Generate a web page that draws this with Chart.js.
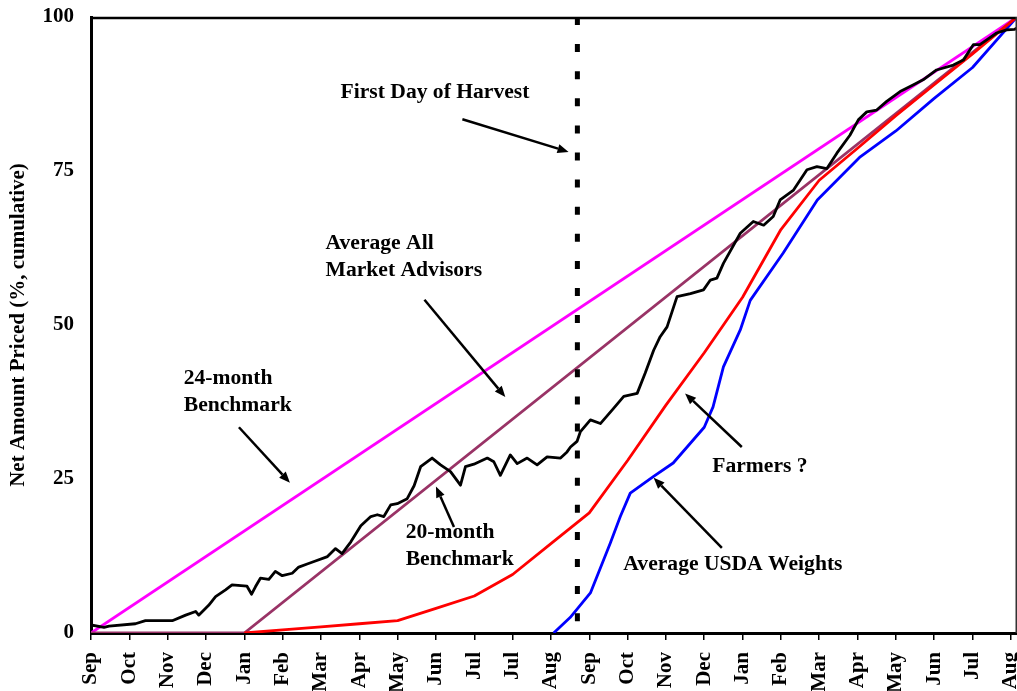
<!DOCTYPE html>
<html>
<head>
<meta charset="utf-8">
<script src="https://cdn.jsdelivr.net/npm/chart.js@4/dist/chart.umd.min.js"></script>
<style>
  html, body { margin: 0; padding: 0; background: #fff; }
  #wrap { width: 1017px; height: 691px; position: relative; overflow: hidden; }
</style>
</head>
<body>
<div id="wrap"><canvas id="c" width="1017" height="691"></canvas></div>
<script>
// ---- tick labels ----
const monthLabels = ["Sep","Oct","Nov","Dec","Jan","Feb","Mar","Apr","May","Jun","Jul","Jul","Aug",
                     "Sep","Oct","Nov","Dec","Jan","Feb","Mar","Apr","May","Jun","Jul","Aug"];
const yTickValues = [0, 25, 50, 75, 100];

// ---- series (x in months since first Sep, y in % cumulative) ----
const bench24X = [0, 24.16];
const bench24Y = [0, 100];

const bench20X = [0, 4, 24.16];
const bench20Y = [0, 0, 100];

const farmersX = [4, 5, 6, 7, 8, 9, 10, 11, 12, 13, 14, 15, 16, 17, 18, 19, 20, 21, 22, 23, 24.16];
const farmersY = [0, 0.5, 1.0, 1.5, 2.0, 4.0, 6.0, 9.5, 14.5, 19.5, 28, 37, 45.5, 54.5, 65.5, 73.5, 78.7, 84, 89, 94, 100];

const usdaX = [12.07, 12.5, 13.03, 13.55, 13.81, 14.07, 14.67, 15.19, 16.0, 16.23, 16.5, 16.94, 17.2, 18.06, 18.95, 20.07, 21.0, 22.0, 23.0, 24.16];
const usdaY = [0, 2.5, 6.5, 14.6, 18.9, 22.7, 25.4, 27.6, 33.4, 36.7, 43.2, 49.2, 54, 61.7, 70.3, 77.3, 81.5, 86.8, 91.8, 100];

const advisorsX = [0, 0.34, 0.47, 1.16, 1.42, 2.12, 2.47, 2.73, 2.81, 3.07, 3.25, 3.51, 3.68, 4.07, 4.19, 4.29, 4.42, 4.64, 4.81, 4.99,
  5.25, 5.42, 5.64, 5.82, 6.17, 6.38, 6.55, 6.78, 7.04, 7.3, 7.47, 7.64, 7.82, 7.99, 8.25, 8.43, 8.6, 8.9, 9.12, 9.38, 9.64, 9.77,
  9.99, 10.34, 10.51, 10.68, 10.94, 11.12, 11.38, 11.64, 11.9, 12.25, 12.42, 12.51, 12.68, 12.77, 13.03, 13.29, 13.64, 13.9, 14.25,
  14.46, 14.68, 14.85, 15.03, 15.29, 15.64, 15.98, 16.16, 16.33, 16.5, 16.94, 17.28, 17.55, 17.8, 17.98, 18.33, 18.68, 18.94, 19.2,
  19.46, 19.8, 20.02, 20.24, 20.5, 20.76, 21.11, 21.46, 21.71, 22.06, 22.5, 22.76, 23.02, 23.19, 23.37, 23.63, 23.89, 24.1, 24.16];
const advisorsY = [1.3, 0.9, 1.1, 1.5, 2.0, 2.0, 2.9, 3.5, 2.9, 4.5, 5.9, 7.0, 7.8, 7.6, 6.3, 7.5, 8.9, 8.7, 10.0, 9.3,
  9.7, 10.7, 11.2, 11.6, 12.4, 13.7, 12.9, 14.8, 17.4, 18.9, 19.2, 18.9, 20.8, 21.0, 21.8, 23.9, 27.0, 28.4, 27.3, 26.2, 24.0, 27.0,
  27.4, 28.4, 27.8, 25.6, 28.9, 27.5, 28.4, 27.3, 28.6, 28.4, 29.4, 30.2, 31.1, 32.7, 34.6, 34.0, 36.5, 38.4, 38.9,
  42.2, 45.9, 48.1, 49.7, 54.6, 55.1, 55.7, 57.3, 57.6, 60.0, 64.9, 66.8, 66.2, 67.6, 70.3, 71.9, 75.2, 75.7, 75.4,
  77.9, 80.8, 83.3, 84.6, 84.9, 86.3, 87.9, 89.0, 89.8, 91.4, 92.2, 93.0, 95.5, 95.5, 96.3, 97.4, 97.9, 98.0, 98.2];

const harvestX = [12.69, 12.69];
const harvestY = [100, 0];

// ---- annotations (in data coordinates) ----
const noteTexts = [
  { text: "First Day of Harvest", x: 6.51, y: 87.7 },
  { text: "Average All", x: 6.12, y: 63.3 },
  { text: "Market Advisors", x: 6.12, y: 58.9 },
  { text: "24-month", x: 2.42, y: 41.4 },
  { text: "Benchmark", x: 2.42, y: 37.0 },
  { text: "20-month", x: 8.21, y: 16.4 },
  { text: "Benchmark", x: 8.21, y: 11.9 },
  { text: "Farmers ?", x: 16.21, y: 27.1 },
  { text: "Average USDA Weights", x: 13.89, y: 11.2 }
];
const noteArrows = [
  { from: [9.69, 83.4], to: [12.46, 78.1] },
  { from: [8.70, 54.1], to: [10.81, 38.3] },
  { from: [3.86, 33.4], to: [5.19, 24.4] },
  { from: [9.47, 17.2], to: [9.00, 23.8] },
  { from: [16.98, 30.2], to: [15.50, 38.9] },
  { from: [16.46, 13.8], to: [14.68, 25.2] }
];

const zip = (xs, ys) => xs.map((x, i) => ({ x: x, y: ys[i] }));
const FONT = "'Liberation Serif', 'Times New Roman', serif";

const framePlugin = {
  id: 'frame',
  afterDatasetsDraw(chart) {
    const { ctx, chartArea: a } = chart;
    ctx.save();
    ctx.strokeStyle = '#000';
    ctx.lineWidth = 2.5;
    ctx.beginPath(); ctx.moveTo(a.left, a.top + 1); ctx.lineTo(a.right, a.top + 1); ctx.stroke();
    ctx.lineWidth = 1.5;
    ctx.strokeStyle = '#333';
    ctx.beginPath(); ctx.moveTo(a.right - 0.75, a.top); ctx.lineTo(a.right - 0.75, a.bottom); ctx.stroke();
    ctx.restore();
  }
};

const notePlugin = {
  id: 'notes',
  afterDraw(chart) {
    const { ctx } = chart;
    const xs = chart.scales.x, ys = chart.scales.y;
    ctx.save();
    ctx.fillStyle = '#000';
    ctx.strokeStyle = '#000';
    ctx.font = "bold 21.6px " + FONT;
    ctx.textBaseline = 'middle';
    ctx.textAlign = 'left';
    noteTexts.forEach(n => {
      ctx.fillText(n.text, xs.getPixelForValue(n.x), ys.getPixelForValue(n.y));
    });
    noteArrows.forEach(a => {
      const x0 = xs.getPixelForValue(a.from[0]), y0 = ys.getPixelForValue(a.from[1]);
      const x1 = xs.getPixelForValue(a.to[0]), y1 = ys.getPixelForValue(a.to[1]);
      const ang = Math.atan2(y1 - y0, x1 - x0);
      const L = 11, W = 4.5;
      const bx = x1 - L * Math.cos(ang), by = y1 - L * Math.sin(ang);
      ctx.lineWidth = 2.5;
      ctx.beginPath(); ctx.moveTo(x0, y0); ctx.lineTo(bx, by); ctx.stroke();
      ctx.beginPath();
      ctx.moveTo(x1, y1);
      ctx.lineTo(bx + W * Math.sin(ang), by - W * Math.cos(ang));
      ctx.lineTo(bx - W * Math.sin(ang), by + W * Math.cos(ang));
      ctx.closePath(); ctx.fill();
    });
    ctx.restore();
  }
};

new Chart(document.getElementById('c'), {
  type: 'line',
  data: {
    datasets: [
      { label: 'Average All Market Advisors', data: zip(advisorsX, advisorsY), borderColor: '#000000', borderWidth: 2.8, order: 0 },
      { label: 'First Day of Harvest', data: zip(harvestX, harvestY), borderColor: '#000000', borderWidth: 5, borderDash: [8, 19.1], order: 1 },
      { label: 'Farmers ?', data: zip(farmersX, farmersY), borderColor: '#FF0000', borderWidth: 2.8, order: 2 },
      { label: 'Average USDA Weights', data: zip(usdaX, usdaY), borderColor: '#0000FF', borderWidth: 2.8, order: 3 },
      { label: '20-month Benchmark', data: zip(bench20X, bench20Y), borderColor: '#993366', borderWidth: 2.8, order: 4 },
      { label: '24-month Benchmark', data: zip(bench24X, bench24Y), borderColor: '#FF00FF', borderWidth: 2.8, order: 5 }
    ]
  },
  options: {
    responsive: false,
    animation: false,
    devicePixelRatio: 1,
    layout: { padding: { top: 17, right: 0, left: 0, bottom: 0 } },
    plugins: { legend: { display: false }, tooltip: { enabled: false } },
    elements: { point: { radius: 0 }, line: { tension: 0, borderCapStyle: 'butt', borderJoinStyle: 'round' } },
    scales: {
      x: {
        type: 'linear', min: 0, max: 24.16,
        afterBuildTicks: s => { s.ticks = monthLabels.map((_, i) => ({ value: i })); },
        afterFit: s => { s.height = 58; s.paddingLeft = 0; s.paddingRight = 0; },
        ticks: {
          autoSkip: false, minRotation: 90, maxRotation: 90, padding: 12, color: '#000',
          font: { family: FONT, size: 21, weight: 'bold' },
          callback: (v, i) => monthLabels[i]
        },
        grid: { display: true, drawOnChartArea: false, drawTicks: true, tickLength: 7, color: '#000', lineWidth: 1.5 },
        border: { display: true, color: '#000', width: 3 }
      },
      y: {
        type: 'linear', min: 0, max: 100,
        afterBuildTicks: s => { s.ticks = yTickValues.map(v => ({ value: v })); },
        afterFit: s => { s.width = 91; s.paddingTop = 0; s.paddingBottom = 0; },
        ticks: { padding: 17, color: '#000', font: { family: FONT, size: 21, weight: 'bold' } },
        grid: { display: false, drawTicks: false },
        border: { display: true, color: '#000', width: 3 },
        title: {
          display: true, text: 'Net Amount Priced (%, cumulative)', color: '#000',
          font: { family: FONT, size: 21, weight: 'bold' }, padding: { top: 6, bottom: 0 }
        }
      }
    }
  },
  plugins: [framePlugin, notePlugin]
});
</script>
</body>
</html>
